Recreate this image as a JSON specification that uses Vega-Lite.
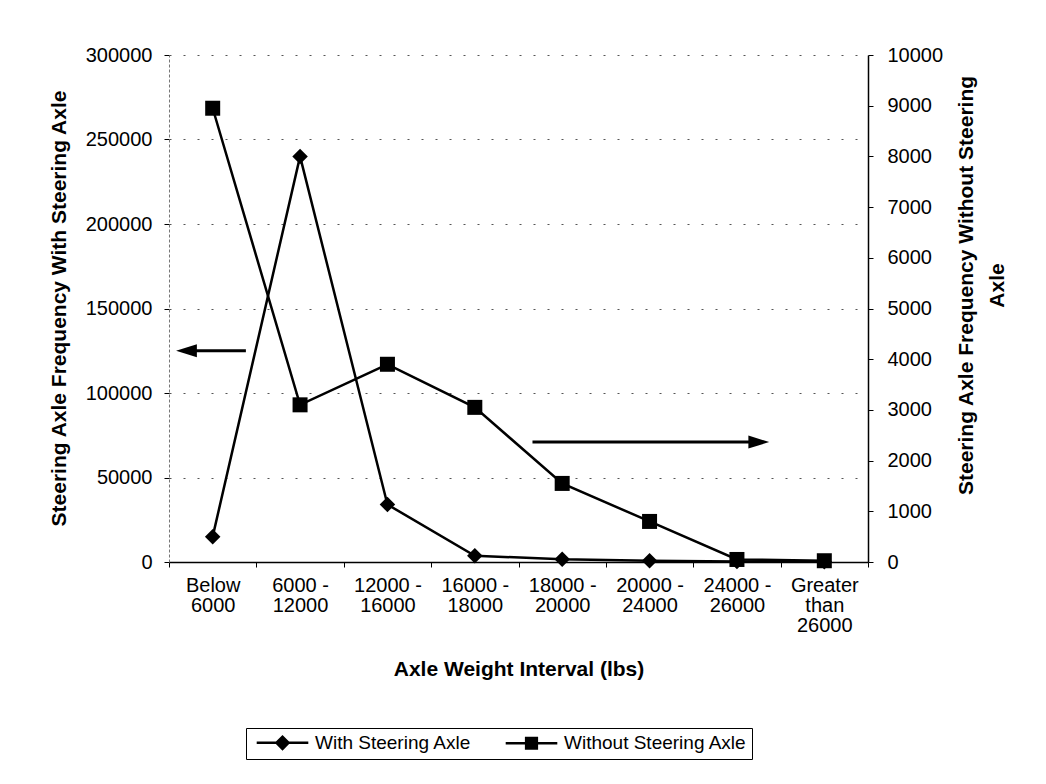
{
  "$schema": "https://vega.github.io/schema/vega-lite/v6.json",
  "width": 699,
  "height": 507,
  "autosize": "none",
  "padding": {"left": 169, "top": 55, "right": 178, "bottom": 222},
  "background": "white",
  "config": {
    "view": {"stroke": null},
    "font": "Liberation Sans",
    "axis": {
      "labelFont": "Liberation Sans",
      "titleFont": "Liberation Sans",
      "labelColor": "black",
      "titleColor": "black",
      "tickColor": "black",
      "labelFontSize": 20,
      "titleFontSize": 21,
      "titleFontWeight": "bold"
    },
    "legend": {"labelFont": "Liberation Sans", "labelFontSize": 19, "labelColor": "black", "labelLimit": 400}
  },
  "datasets": {
    "freq": [
      {"interval": "Below 6000", "series": "With Steering Axle", "count": 15000},
      {"interval": "6000 - 12000", "series": "With Steering Axle", "count": 240000},
      {"interval": "12000 - 16000", "series": "With Steering Axle", "count": 34000},
      {"interval": "16000 - 18000", "series": "With Steering Axle", "count": 3700},
      {"interval": "18000 - 20000", "series": "With Steering Axle", "count": 1600},
      {"interval": "20000 - 24000", "series": "With Steering Axle", "count": 700},
      {"interval": "24000 - 26000", "series": "With Steering Axle", "count": 300},
      {"interval": "Greater than 26000", "series": "With Steering Axle", "count": 100},
      {"interval": "Below 6000", "series": "Without Steering Axle", "count": 8950},
      {"interval": "6000 - 12000", "series": "Without Steering Axle", "count": 3100},
      {"interval": "12000 - 16000", "series": "Without Steering Axle", "count": 3900},
      {"interval": "16000 - 18000", "series": "Without Steering Axle", "count": 3050},
      {"interval": "18000 - 20000", "series": "Without Steering Axle", "count": 1550},
      {"interval": "20000 - 24000", "series": "Without Steering Axle", "count": 800},
      {"interval": "24000 - 26000", "series": "Without Steering Axle", "count": 50},
      {"interval": "Greater than 26000", "series": "Without Steering Axle", "count": 25}
    ],
    "arrows": [
      {"dir": "left", "x0": 0.2, "x1": 0.88, "head": 0.2, "y": 125000},
      {"dir": "right", "x0": 4.16, "x1": 6.75, "head": 6.75, "y": 71000}
    ]
  },
  "layer": [
    {
      "data": {"name": "freq"},
      "encoding": {
        "x": {
          "field": "interval",
          "type": "nominal",
          "sort": ["Below 6000", "6000 - 12000", "12000 - 16000", "16000 - 18000", "18000 - 20000", "20000 - 24000", "24000 - 26000", "Greater than 26000"],
          "scale": {"type": "band", "paddingInner": 0, "paddingOuter": 0},
          "axis": {
            "title": "Axle Weight Interval (lbs)",
            "labelAngle": 0,
            "labelExpr": "!datum.label ? '' : datum.label == 'Below 6000' ? ['Below', '6000'] : datum.label == 'Greater than 26000' ? ['Greater', 'than', '26000'] : [split(datum.label, ' - ')[0] + ' -', split(datum.label, ' - ')[1]]",
            "labelBaseline": "top",
            "labelLineHeight": 20,
            "labelPadding": 8,
            "tickBand": "extent",
            "tickSize": 5,
            "domainColor": "black",
            "domainWidth": 1.5,
            "grid": false,
            "titleY": 107,
            "titleBaseline": "middle"
          }
        }
      },
      "layer": [
        {
          "transform": [{"filter": "datum.series == 'With Steering Axle'"}],
          "encoding": {
            "y": {
              "field": "count",
              "type": "quantitative",
              "scale": {"domain": [0, 300000]},
              "axis": {
                "title": "Steering Axle Frequency With Steering Axle",
                "values": [0, 50000, 100000, 150000, 200000, 250000, 300000],
                "format": "d",
                "grid": true,
                "gridColor": "#555",
                "gridDash": [2, 12],
                "gridWidth": 1,
                "domainColor": "#777",
                "domainDash": [3, 2],
                "tickSize": 5,
                "labelPadding": 12,
                "titleAngle": -90,
                "titleX": -110,
                "titleY": 253,
                "titleAlign": "center",
                "titleBaseline": "middle"
              }
            }
          },
          "layer": [
            {"mark": {"type": "line", "color": "black", "strokeWidth": 2.5}},
            {"mark": {"type": "point", "filled": true, "color": "black", "opacity": 1, "size": 240, "shape": "diamond"}},
            {
              "transform": [{"filter": "false"}],
              "mark": {"type": "point", "filled": true, "color": "black", "opacity": 1, "size": 144},
              "encoding": {
                "shape": {
                  "field": "series",
                  "type": "nominal",
                  "scale": {
                    "domain": ["With Steering Axle", "Without Steering Axle"],
                    "range": [
                      "M-4.3,-0.21H4.3V0.21H-4.3ZM-1.3,0L0,-1.3L1.3,0L0,1.3Z",
                      "M-4.3,-0.21H4.3V0.21H-4.3ZM-1.1,-1.1H1.1V1.1H-1.1Z"
                    ]
                  },
                  "legend": {
                    "title": null,
                    "orient": "none",
                    "direction": "horizontal",
                    "legendX": 77,
                    "legendY": 673,
                    "strokeColor": "black",
                    "fillColor": "white",
                    "padding": 5,
                    "symbolSize": 144,
                    "symbolOffset": 22,
                    "labelOffset": 23,
                    "columnPadding": 28,
                    "symbolFillColor": "black"
                  }
                }
              }
            }
          ]
        },
        {
          "transform": [{"filter": "datum.series == 'Without Steering Axle'"}],
          "encoding": {
            "y": {
              "field": "count",
              "type": "quantitative",
              "scale": {"domain": [0, 10000]},
              "axis": {
                "orient": "right",
                "title": ["Steering Axle Frequency Without Steering", "Axle"],
                "values": [0, 1000, 2000, 3000, 4000, 5000, 6000, 7000, 8000, 9000, 10000],
                "format": "d",
                "grid": false,
                "domainColor": "black",
                "domainWidth": 1.5,
                "tickSize": 5,
                "labelPadding": 14,
                "titleAngle": -90,
                "titleX": 98,
                "titleY": 230,
                "titleAlign": "center",
                "titleBaseline": "middle",
                "titleLineHeight": 31
              }
            }
          },
          "layer": [
            {"mark": {"type": "line", "color": "black", "strokeWidth": 2.5}},
            {"mark": {"type": "point", "filled": true, "color": "black", "opacity": 1, "size": 225, "shape": "square"}}
          ]
        }
      ],
      "resolve": {"scale": {"y": "independent"}}
    },
    {
      "data": {"name": "arrows"},
      "encoding": {
        "y": {"field": "y", "type": "quantitative", "scale": {"domain": [0, 300000]}, "axis": null}
      },
      "layer": [
        {
          "mark": {"type": "rule", "color": "black", "strokeWidth": 3},
          "encoding": {
            "x": {"field": "x0", "type": "quantitative", "scale": {"domain": [0, 8]}, "axis": null},
            "x2": {"field": "x1"}
          }
        },
        {
          "transform": [{"filter": "datum.dir == 'left'"}],
          "mark": {"type": "point", "filled": true, "color": "black", "opacity": 1, "size": 169, "shape": "M-1.6,0L1.6,-1L1.6,1Z"},
          "encoding": {"x": {"field": "head", "type": "quantitative"}}
        },
        {
          "transform": [{"filter": "datum.dir == 'right'"}],
          "mark": {"type": "point", "filled": true, "color": "black", "opacity": 1, "size": 169, "shape": "M1.6,0L-1.6,-1L-1.6,1Z"},
          "encoding": {"x": {"field": "head", "type": "quantitative"}}
        }
      ]
    }
  ],
  "resolve": {"scale": {"x": "independent", "y": "independent", "shape": "independent"}}
}
